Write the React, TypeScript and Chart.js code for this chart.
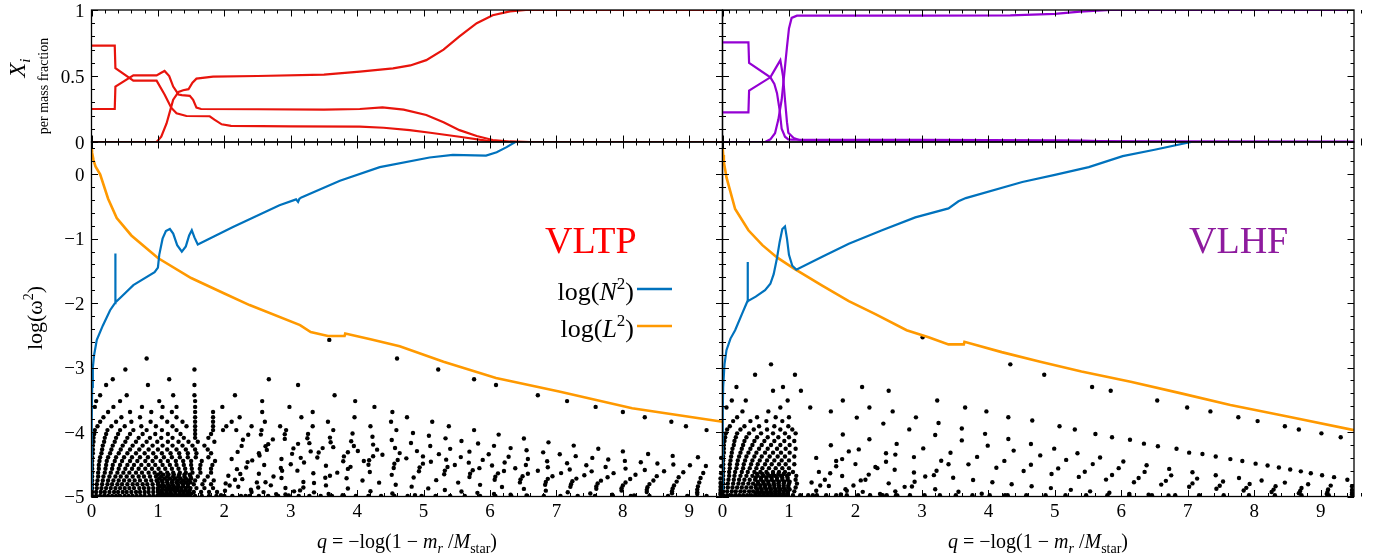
import React, { useEffect, useRef } from 'react';
import { Chart, registerables } from 'chart.js';
Chart.register(...registerables);

const W = 1374;
const H = 559;
const FONT = "'Liberation Serif', 'Times New Roman', serif";

const C_RED = '#e8140c';
const C_PURPLE = '#9400d3';
const C_BLUE = '#0072bd';
const C_ORANGE = '#ff9900';

// ---------- axes ----------
const X_MAJOR = [0, 1, 2, 3, 4, 5, 6, 7, 8, 9];
const Q_MAX = 9.5;
const TOP_Y_MAJOR = [0, 0.5, 1];
const BOT_Y_MAJOR = [-5, -4, -3, -2, -1, 0];
const BOT_Y_MIN = -5;
const BOT_Y_MAX = 0.5;

// ---------- VLTP abundances (top left) ----------
const VLTP_A_Q = [0, 0.35, 0.36, 0.63, 0.98, 1.05, 1.10, 1.17, 1.23, 1.31, 1.36, 1.48, 1.53, 1.58, 1.65, 2.5, 3.5, 4.04, 4.38, 4.7, 5.04, 5.3, 5.54, 5.8, 6.04, 6.3, 6.6, 9.5];
const VLTP_A_X = [0.25, 0.25, 0.42, 0.505, 0.505, 0.525, 0.538, 0.50, 0.42, 0.36, 0.355, 0.35, 0.32, 0.26, 0.25, 0.248, 0.245, 0.25, 0.263, 0.245, 0.205, 0.15, 0.09, 0.045, 0.015, 0.004, 0, 0];
const VLTP_B_Q = [0, 0.35, 0.36, 0.63, 0.98, 1.1, 1.2, 1.28, 1.43, 1.78, 1.85, 1.96, 2.1, 3.0, 4.04, 4.4, 4.79, 5.1, 5.54, 5.94, 6.2, 9.5];
const VLTP_B_X = [0.73, 0.73, 0.56, 0.465, 0.465, 0.36, 0.26, 0.217, 0.197, 0.195, 0.17, 0.134, 0.122, 0.118, 0.116, 0.108, 0.09, 0.07, 0.04, 0.01, 0, 0];
const VLTP_C_Q = [0, 0.98, 1.05, 1.13, 1.18, 1.23, 1.31, 1.38, 1.46, 1.52, 1.58, 1.83, 2.5, 3.5, 4.04, 4.54, 4.8, 5.04, 5.3, 5.54, 5.8, 6.04, 6.3, 6.54, 9.5];
const VLTP_C_X = [0, 0, 0.04, 0.14, 0.23, 0.32, 0.38, 0.392, 0.40, 0.45, 0.48, 0.495, 0.50, 0.51, 0.533, 0.558, 0.58, 0.62, 0.70, 0.80, 0.90, 0.96, 0.99, 1.0, 1.0];

// ---------- VLHF abundances (top right) ----------
const VLHF_A_Q = [0, 0.39, 0.40, 0.72, 0.78, 0.82, 0.86, 0.89, 0.94, 0.99, 1.05, 2, 3, 4, 5, 5.4, 5.8, 6.2, 9.5];
const VLHF_A_X = [0.755, 0.755, 0.60, 0.49, 0.44, 0.37, 0.24, 0.10, 0.04, 0.02, 0.018, 0.017, 0.016, 0.014, 0.012, 0.01, 0.005, 0, 0];
const VLHF_B_Q = [0, 0.39, 0.40, 0.72, 0.80, 0.87, 0.91, 0.94, 0.97, 0.99, 1.07, 1.2, 9.5];
const VLHF_B_X = [0.225, 0.225, 0.39, 0.49, 0.56, 0.62, 0.50, 0.32, 0.15, 0.07, 0.03, 0.008, 0.003];
const VLHF_C_Q = [0, 0.64, 0.72, 0.79, 0.84, 0.89, 0.93, 0.97, 1.0, 1.04, 1.12, 2, 3, 4.33, 5.0, 5.38, 5.84, 9.5];
const VLHF_C_X = [0, 0, 0.02, 0.066, 0.17, 0.32, 0.52, 0.72, 0.86, 0.94, 0.957, 0.957, 0.958, 0.96, 0.97, 0.987, 1.0, 1.0];

// ---------- VLTP frequencies (bottom left) ----------
const VLTP_N2_Q = [0.0, 0.002, 0.005, 0.01, 0.02, 0.04, 0.08, 0.17, 0.28, 0.34, 0.355, 0.358, 0.362, 0.37, 0.45, 0.63, 0.95, 1.0, 1.02, 1.07, 1.12, 1.18, 1.23, 1.29, 1.36, 1.42, 1.47, 1.51, 1.55, 1.60, 2.13, 2.83, 3.08, 3.11, 3.13, 3.16, 3.74, 4.34, 5.09, 5.44, 5.94, 6.1, 6.25, 6.38];
const VLTP_N2_L = [-5.0, -4.4, -3.8, -3.3, -3.0, -2.8, -2.57, -2.35, -2.11, -2.02, -2.0, -1.23, -1.95, -1.98, -1.9, -1.72, -1.52, -1.45, -1.25, -1.0, -0.88, -0.85, -0.92, -1.1, -1.2, -1.12, -0.95, -0.87, -0.98, -1.09, -0.82, -0.48, -0.39, -0.43, -0.38, -0.36, -0.10, 0.11, 0.26, 0.30, 0.29, 0.34, 0.42, 0.5];
const VLTP_L2_Q = [0, 0.003, 0.01, 0.03, 0.06, 0.13, 0.25, 0.38, 0.6, 1.0, 1.5, 2.0, 2.38, 3.14, 3.3, 3.56, 3.81, 3.82, 4.2, 4.64, 5.3, 6.09, 7.04, 8.14, 9.5];
const VLTP_L2_L = [0.5, 0.42, 0.33, 0.22, 0.12, 0.0, -0.38, -0.68, -0.95, -1.3, -1.61, -1.85, -2.03, -2.34, -2.45, -2.51, -2.51, -2.47, -2.56, -2.67, -2.91, -3.16, -3.37, -3.63, -3.84];

// modes: log omega^2 with node positions q (rows), plus node tracks [q, log omega^2]
const VLTP_MODE_LOGW2 = [-2.57, -2.86, -3.03, -3.18, -3.27, -3.43, -3.52, -3.61, -3.69, -3.77, -3.84, -3.91, -3.97,
  -4.03, -4.09, -4.15, -4.21, -4.27, -4.33, -4.39, -4.45, -4.51, -4.57, -4.63, -4.69, -4.75, -4.81, -4.87, -4.93, -4.99,
  -4.66, -4.72, -4.78, -4.84, -4.90, -4.96];
const VLTP_MODE_NODES = [
  [3.58],
  [0.83, 4.60],
  [0.51, 1.55, 5.22],
  [0.32, 1.17, 2.67, 5.76],
  [0.22, 0.85, 1.55, 3.11, 6.09],
  [0.13, 0.53, 1.23, 1.55, 2.16, 3.66, 6.72],
  [0.07, 0.43, 1.02, 1.56, 2.57, 3.97, 7.16],
  [0.05, 0.33, 0.76, 1.07, 1.28, 1.56, 1.97, 2.98, 4.26, 7.59],
  [0.25, 0.58, 0.90, 1.21, 1.56, 1.83, 2.57, 3.33, 4.53, 8.0],
  [0.18, 0.45, 0.73, 1.06, 1.28, 1.56, 1.83, 2.23, 3.16, 3.96, 4.75, 8.33],
  [0.13, 0.37, 0.60, 0.89, 1.14, 1.37, 1.56, 1.83, 2.11, 2.61, 3.56, 4.51, 5.13, 8.73],
  [0.09, 0.30, 0.50, 0.75, 0.97, 1.22, 1.43, 1.56, 1.83, 2.03, 2.41, 2.84, 3.33, 4.20, 5.38, 8.95],
  [0.05, 0.24, 0.43, 0.63, 0.83, 1.06, 1.28, 1.56, 1.83, 1.98, 2.18, 2.56, 2.93, 3.64, 4.59, 5.76, 9.26],
  [0.04, 0.22, 0.40, 0.58, 0.77, 0.96, 1.15, 1.34, 1.56, 1.80],
  [0.03, 0.20, 0.37, 0.54, 0.71, 0.88, 1.05, 1.22, 1.39, 1.56, 1.76],
  [0.03, 0.19, 0.35, 0.51, 0.67, 0.83, 0.99, 1.15, 1.31, 1.46, 1.60, 1.85],
  [0.02, 0.17, 0.32, 0.47, 0.62, 0.77, 0.92, 1.07, 1.22, 1.37, 1.52, 1.70],
  [0.02, 0.16, 0.30, 0.44, 0.58, 0.72, 0.86, 1.00, 1.14, 1.28, 1.42, 1.56, 1.75],
  [0.02, 0.15, 0.28, 0.41, 0.54, 0.67, 0.80, 0.93, 1.06, 1.19, 1.32, 1.45, 1.58, 1.80],
  [0.01, 0.13, 0.25, 0.37, 0.49, 0.61, 0.73, 0.85, 0.97, 1.09, 1.21, 1.33, 1.45, 1.57, 1.76],
  [0.01, 0.12, 0.23, 0.35, 0.46, 0.58, 0.69, 0.81, 0.92, 1.04, 1.15, 1.27, 1.38, 1.50, 1.66, 1.86],
  [0.01, 0.11, 0.22, 0.32, 0.43, 0.54, 0.64, 0.75, 0.86, 0.96, 1.07, 1.18, 1.28, 1.39, 1.50, 1.64, 1.82],
  [0.01, 0.11, 0.21, 0.31, 0.41, 0.51, 0.61, 0.71, 0.81, 0.91, 1.01, 1.11, 1.21, 1.31, 1.41, 1.51, 1.63, 1.80],
  [0.01, 0.10, 0.20, 0.29, 0.39, 0.48, 0.57, 0.67, 0.76, 0.86, 0.95, 1.04, 1.14, 1.23, 1.33, 1.42, 1.52, 1.64, 1.80],
  [0.01, 0.10, 0.18, 0.27, 0.36, 0.44, 0.53, 0.62, 0.71, 0.79, 0.88, 0.97, 1.05, 1.14, 1.23, 1.31, 1.40, 1.49, 1.60, 1.75],
  [0.01, 0.09, 0.17, 0.25, 0.33, 0.41, 0.49, 0.57, 0.65, 0.73, 0.82, 0.90, 0.98, 1.06, 1.14, 1.22, 1.30, 1.38, 1.46, 1.56, 1.70, 1.84],
  [0.01, 0.08, 0.16, 0.24, 0.31, 0.39, 0.46, 0.54, 0.62, 0.69, 0.77, 0.84, 0.92, 1.00, 1.07, 1.15, 1.22, 1.30, 1.38, 1.45, 1.54, 1.67, 1.80],
  [0.01, 0.08, 0.15, 0.22, 0.29, 0.36, 0.43, 0.50, 0.57, 0.64, 0.72, 0.79, 0.86, 0.93, 1.00, 1.07, 1.14, 1.21, 1.28, 1.35, 1.42, 1.49, 1.58, 1.70, 1.83],
  [0.01, 0.07, 0.14, 0.20, 0.27, 0.34, 0.40, 0.47, 0.53, 0.60, 0.67, 0.73, 0.80, 0.86, 0.93, 1.00, 1.06, 1.13, 1.19, 1.26, 1.33, 1.39, 1.46, 1.54, 1.65, 1.77, 1.89],
  [0.01, 0.07, 0.13, 0.19, 0.25, 0.31, 0.37, 0.43, 0.50, 0.56, 0.62, 0.68, 0.74, 0.80, 0.87, 0.93, 0.99, 1.05, 1.11, 1.17, 1.23, 1.30, 1.36, 1.42, 1.48, 1.56, 1.66, 1.77, 1.88, 2.00, 2.12, 2.25, 2.38, 2.52, 2.66, 2.81, 2.96, 3.12, 3.28, 3.45, 3.62, 3.80, 3.98, 4.17, 4.36, 4.56, 4.76, 4.97, 5.18, 5.40, 5.62, 5.85, 6.08, 6.32, 6.56, 6.81, 7.06, 7.32, 7.58, 7.85, 8.12, 8.40, 8.68, 8.97, 9.26],
  [1.00, 1.08, 1.16, 1.24, 1.32, 1.40, 1.48],
  [1.02, 1.10, 1.18, 1.26, 1.34, 1.42, 1.50],
  [1.00, 1.07, 1.14, 1.21, 1.28, 1.35, 1.42, 1.49],
  [1.03, 1.10, 1.17, 1.24, 1.31, 1.38, 1.45],
  [1.00, 1.06, 1.12, 1.18, 1.24, 1.30, 1.36, 1.42, 1.48],
  [1.02, 1.08, 1.14, 1.20, 1.26, 1.32, 1.38, 1.44, 1.50],
];
const VLTP_NODE_TRACKS: number[][][] = [
  [[6.13, -4.04], [6.51, -4.10], [6.88, -4.16], [7.26, -4.21], [7.63, -4.26], [8.00, -4.30], [8.38, -4.34], [8.75, -4.37], [9.13, -4.39], [9.48, -4.40]],
  [[4.84, -4.014], [5.08, -4.057], [5.33, -4.098], [5.57, -4.138], [5.82, -4.177], [6.06, -4.214], [6.31, -4.249], [6.55, -4.283], [6.80, -4.315], [7.05, -4.345], [7.29, -4.374], [7.54, -4.401], [7.78, -4.425], [8.03, -4.448], [8.27, -4.469], [8.52, -4.487], [8.76, -4.503], [9.01, -4.516], [9.25, -4.526], [9.48, -4.53]],
  [[3.93, -4.023], [4.23, -4.074], [4.52, -4.123], [4.81, -4.171], [5.10, -4.217], [5.40, -4.261], [5.69, -4.304], [5.98, -4.345], [6.28, -4.383], [6.57, -4.419], [6.86, -4.453], [7.16, -4.485], [7.45, -4.515], [7.74, -4.542], [8.04, -4.567], [8.33, -4.589], [8.62, -4.608], [8.91, -4.623], [9.21, -4.635], [9.48, -4.64]],
  [[3.26, -4.029], [3.59, -4.086], [3.91, -4.142], [4.24, -4.195], [4.57, -4.247], [4.90, -4.296], [5.23, -4.343], [5.56, -4.389], [5.89, -4.432], [6.22, -4.472], [6.54, -4.511], [6.87, -4.547], [7.20, -4.580], [7.53, -4.610], [7.86, -4.638], [8.19, -4.663], [8.51, -4.684], [8.84, -4.701], [9.17, -4.714], [9.47, -4.72]],
  [[2.91, -4.035], [3.25, -4.097], [3.60, -4.158], [3.95, -4.216], [4.30, -4.273], [4.64, -4.327], [4.99, -4.378], [5.34, -4.428], [5.68, -4.475], [6.03, -4.519], [6.38, -4.561], [6.72, -4.601], [7.07, -4.637], [7.42, -4.670], [7.77, -4.701], [8.11, -4.728], [8.46, -4.751], [8.81, -4.769], [9.15, -4.783], [9.47, -4.79]],
  [[2.55, -4.040], [2.91, -4.106], [3.28, -4.172], [3.64, -4.234], [4.01, -4.295], [4.38, -4.353], [4.74, -4.408], [5.11, -4.462], [5.47, -4.512], [5.84, -4.560], [6.21, -4.604], [6.57, -4.647], [6.94, -4.685], [7.30, -4.722], [7.67, -4.754], [8.04, -4.783], [8.40, -4.808], [8.77, -4.828], [9.13, -4.843], [9.47, -4.85]],
  [[2.36, -4.043], [2.73, -4.114], [3.11, -4.183], [3.48, -4.249], [3.86, -4.313], [4.24, -4.375], [4.61, -4.433], [4.99, -4.490], [5.36, -4.543], [5.74, -4.593], [6.12, -4.641], [6.49, -4.685], [6.87, -4.726], [7.24, -4.764], [7.62, -4.799], [8.00, -4.829], [8.37, -4.855], [8.75, -4.877], [9.12, -4.893], [9.47, -4.90]],
  [[2.28, -4.120], [2.66, -4.188], [3.04, -4.254], [3.42, -4.317], [3.80, -4.378], [4.18, -4.437], [4.56, -4.493], [4.94, -4.548], [5.32, -4.598], [5.70, -4.646], [6.08, -4.692], [6.46, -4.734], [6.84, -4.774], [7.22, -4.810], [7.60, -4.843], [7.98, -4.872], [8.36, -4.897], [8.74, -4.918], [9.12, -4.933], [9.47, -4.94]],
  [[2.26, -4.215], [2.64, -4.277], [3.02, -4.338], [3.40, -4.396], [3.79, -4.453], [4.17, -4.507], [4.55, -4.558], [4.93, -4.608], [5.31, -4.655], [5.69, -4.699], [6.07, -4.741], [6.45, -4.781], [6.83, -4.817], [7.21, -4.850], [7.60, -4.881], [7.98, -4.908], [8.36, -4.931], [8.74, -4.949], [9.12, -4.963], [9.47, -4.97]],
  [[2.20, -4.308], [2.53, -4.365], [2.86, -4.419], [3.20, -4.472], [3.53, -4.523], [3.86, -4.572], [4.19, -4.619], [4.52, -4.664], [4.85, -4.706], [5.19, -4.746], [5.52, -4.784], [5.85, -4.819], [6.18, -4.852], [6.51, -4.882], [6.84, -4.909], [7.17, -4.934], [7.51, -4.954], [7.84, -4.971], [8.17, -4.984]],
  [[2.11, -4.419], [2.35, -4.466], [2.60, -4.512], [2.85, -4.556], [3.10, -4.599], [3.34, -4.640], [3.59, -4.679], [3.84, -4.717], [4.08, -4.752], [4.33, -4.785], [4.58, -4.817], [4.82, -4.847], [5.07, -4.874], [5.32, -4.899], [5.57, -4.922], [5.81, -4.943], [6.06, -4.960], [6.31, -4.974], [6.55, -4.985]],
  [[2.19, -4.576], [2.52, -4.647], [2.86, -4.713], [3.19, -4.774], [3.53, -4.828], [3.86, -4.877], [4.20, -4.918], [4.53, -4.953], [4.87, -4.978]],
  [[2.06, -4.677], [2.27, -4.731], [2.49, -4.781], [2.70, -4.827], [2.92, -4.868], [3.14, -4.905], [3.35, -4.936], [3.57, -4.962], [3.78, -4.981]],
  [[2.02, -4.797], [2.21, -4.849], [2.40, -4.894], [2.59, -4.932], [2.78, -4.963], [2.97, -4.984]],
  [[2.62, -4.22], [2.52, -4.33], [2.42, -4.44], [2.33, -4.55], [2.24, -4.65], [2.16, -4.74], [2.08, -4.83], [2.01, -4.91], [1.95, -4.98]],
  [[3.30, -4.30], [3.15, -4.40], [3.00, -4.50], [2.87, -4.60], [2.74, -4.69], [2.62, -4.78], [2.51, -4.86], [2.41, -4.93], [2.32, -4.99]],
  [[4.10, -4.45], [3.90, -4.54], [3.70, -4.63], [3.52, -4.71], [3.35, -4.79], [3.19, -4.86], [3.05, -4.92], [2.92, -4.97]],
];

// ---------- VLHF frequencies (bottom right) ----------
const VLHF_N2_Q = [0, 0.002, 0.005, 0.01, 0.03, 0.06, 0.12, 0.19, 0.3, 0.375, 0.378, 0.382, 0.5, 0.64, 0.72, 0.77, 0.82, 0.86, 0.9, 0.94, 0.97, 1.0, 1.05, 1.11, 1.5, 1.9, 2.4, 2.9, 3.4, 3.55, 3.66, 4.51, 5.0, 5.51, 6.02, 6.5, 7.05];
const VLHF_N2_L = [-5, -4.3, -3.7, -3.3, -2.95, -2.73, -2.55, -2.42, -2.15, -1.97, -1.36, -1.97, -1.9, -1.80, -1.70, -1.55, -1.3, -1.05, -0.85, -0.81, -1.0, -1.25, -1.42, -1.48, -1.28, -1.08, -0.87, -0.67, -0.53, -0.42, -0.37, -0.12, -0.01, 0.11, 0.28, 0.38, 0.5];
const VLHF_L2_Q = [0, 0.003, 0.01, 0.02, 0.06, 0.19, 0.39, 0.6, 0.82, 1.07, 1.5, 1.9, 2.3, 2.77, 3.1, 3.4, 3.63, 3.64, 4.2, 4.78, 5.4, 6.14, 6.9, 7.64, 8.5, 9.5];
const VLHF_L2_L = [0.5, 0.4, 0.3, 0.19, -0.05, -0.54, -0.87, -1.1, -1.29, -1.46, -1.73, -1.97, -2.17, -2.42, -2.53, -2.64, -2.64, -2.60, -2.76, -2.91, -3.06, -3.22, -3.40, -3.58, -3.76, -3.97];

const VLHF_MODE_LOGW2 = [-2.53, -2.95, -3.11, -3.30, -3.36, -3.51, -3.62, -3.68,
  -3.77, -3.83, -3.91, -3.96, -4.02, -4.08, -4.14, -4.20, -4.26, -4.32, -4.38, -4.44, -4.50, -4.56, -4.62, -4.68, -4.74, -4.80, -4.86, -4.92, -4.98,
  -4.65, -4.71, -4.77, -4.83, -4.89, -4.95];
const VLHF_MODE_NODES = [
  [3.01],
  [0.73, 4.33],
  [0.49, 1.09, 4.84],
  [0.21, 0.91, 2.10, 5.56],
  [0.76, 1.18, 2.50, 5.84],
  [0.14, 0.35, 0.98, 1.81, 3.23, 6.54],
  [0.06, 0.87, 1.32, 2.21, 3.65, 6.99],
  [0.30, 0.69, 1.63, 2.56, 3.97, 7.34],
  [0.22, 0.52, 0.80, 1.00],
  [0.16, 0.42, 0.66, 0.90],
  [0.11, 0.33, 0.55, 0.78, 0.99],
  [0.07, 0.27, 0.47, 0.67, 0.87, 1.05],
  [0.05, 0.22, 0.40, 0.58, 0.76, 0.94, 1.10],
  [0.04, 0.20, 0.36, 0.52, 0.68, 0.84, 1.00],
  [0.03, 0.18, 0.33, 0.48, 0.63, 0.78, 0.93, 1.08],
  [0.02, 0.17, 0.31, 0.45, 0.59, 0.73, 0.87, 1.01],
  [0.02, 0.15, 0.29, 0.42, 0.55, 0.68, 0.82, 0.95, 1.10],
  [0.02, 0.14, 0.27, 0.39, 0.51, 0.64, 0.76, 0.88, 1.01],
  [0.01, 0.13, 0.25, 0.36, 0.48, 0.59, 0.71, 0.83, 0.94, 1.08],
  [0.01, 0.12, 0.23, 0.34, 0.45, 0.56, 0.67, 0.78, 0.89, 1.00],
  [0.01, 0.11, 0.22, 0.32, 0.43, 0.53, 0.64, 0.74, 0.85, 0.95, 1.08],
  [0.01, 0.11, 0.21, 0.31, 0.41, 0.51, 0.60, 0.70, 0.80, 0.90, 1.00],
  [0.01, 0.10, 0.19, 0.29, 0.38, 0.48, 0.57, 0.66, 0.76, 0.85, 0.94, 1.06],
  [0.01, 0.10, 0.18, 0.27, 0.36, 0.45, 0.53, 0.62, 0.71, 0.79, 0.88, 0.97, 1.11],
  [0.01, 0.09, 0.17, 0.25, 0.33, 0.41, 0.49, 0.58, 0.66, 0.74, 0.82, 0.90, 0.98, 1.10],
  [0.01, 0.08, 0.16, 0.24, 0.31, 0.39, 0.46, 0.54, 0.62, 0.69, 0.77, 0.84, 0.92, 1.00, 1.12],
  [0.01, 0.08, 0.15, 0.22, 0.29, 0.36, 0.43, 0.50, 0.57, 0.64, 0.71, 0.78, 0.85, 0.92, 0.99, 1.10],
  [0.01, 0.07, 0.14, 0.20, 0.27, 0.33, 0.40, 0.46, 0.53, 0.59, 0.66, 0.72, 0.79, 0.85, 0.92, 0.98, 1.08],
  [0.01, 0.07, 0.13, 0.19, 0.25, 0.31, 0.37, 0.43, 0.49, 0.55, 0.61, 0.67, 0.73, 0.79, 0.85, 0.91, 0.97, 1.06, 1.17, 1.29, 1.42, 1.56, 1.71, 1.87, 2.04, 2.22, 2.41, 2.61, 2.82, 3.04, 3.27, 3.51, 3.76, 4.02, 4.29, 4.57, 4.86, 5.16, 5.47, 5.79, 6.12, 6.46, 6.81, 7.17, 7.54, 7.92, 8.31, 8.71, 9.12],
  [0.52, 0.60, 0.68, 0.76, 0.84, 0.92, 1.00],
  [0.50, 0.58, 0.66, 0.74, 0.82, 0.90, 0.98],
  [0.53, 0.61, 0.69, 0.77, 0.85, 0.93, 1.01],
  [0.50, 0.57, 0.64, 0.71, 0.78, 0.85, 0.92, 0.99],
  [0.52, 0.59, 0.66, 0.73, 0.80, 0.87, 0.94, 1.01],
  [0.50, 0.56, 0.62, 0.68, 0.74, 0.80, 0.86, 0.92, 0.98],
];
const VLHF_NODE_TRACKS: number[][][] = [
  [[7.76, -3.77], [8.05, -3.83], [8.46, -3.91], [8.67, -3.96], [9.01, -4.02], [9.30, -4.08]],
  [[4.30, -3.77], [4.66, -3.82], [5.07, -3.91], [5.30, -3.96], [5.61, -4.03], [5.86, -4.08], [6.13, -4.12], [6.34, -4.18], [6.55, -4.22], [6.83, -4.26], [7.02, -4.32], [7.22, -4.34], [7.42, -4.38], [7.64, -4.42], [7.82, -4.45], [8.02, -4.49], [8.2, -4.52], [8.37, -4.55], [8.54, -4.58], [8.7, -4.61], [8.85, -4.64], [9.02, -4.67], [9.2, -4.70], [9.40, -4.74]],
  [[2.91, -3.772], [3.25, -3.860], [3.60, -3.946], [3.95, -4.028], [4.30, -4.108], [4.64, -4.185], [4.99, -4.258], [5.34, -4.328], [5.68, -4.395], [6.03, -4.457], [6.38, -4.516], [6.72, -4.572], [7.07, -4.623], [7.42, -4.671], [7.77, -4.714], [8.11, -4.752], [8.46, -4.784], [8.81, -4.811], [9.15, -4.831], [9.47, -4.84]],
  [[2.02, -3.776], [2.42, -3.869], [2.81, -3.959], [3.20, -4.046], [3.60, -4.130], [3.99, -4.211], [4.38, -4.288], [4.78, -4.362], [5.17, -4.432], [5.57, -4.497], [5.96, -4.560], [6.35, -4.618], [6.75, -4.672], [7.14, -4.722], [7.53, -4.767], [7.93, -4.807], [8.32, -4.841], [8.71, -4.869], [9.11, -4.890], [9.47, -4.90]],
  [[1.81, -4.037], [2.21, -4.112], [2.62, -4.184], [3.02, -4.254], [3.43, -4.322], [3.83, -4.386], [4.24, -4.448], [4.64, -4.508], [5.05, -4.564], [5.45, -4.617], [5.86, -4.667], [6.26, -4.714], [6.67, -4.757], [7.07, -4.797], [7.48, -4.833], [7.88, -4.866], [8.29, -4.893], [8.69, -4.915], [9.10, -4.932], [9.47, -4.94]],
  [[1.63, -4.206], [2.05, -4.269], [2.46, -4.330], [2.88, -4.389], [3.29, -4.446], [3.70, -4.501], [4.12, -4.553], [4.53, -4.604], [4.95, -4.651], [5.36, -4.696], [5.77, -4.738], [6.19, -4.778], [6.60, -4.815], [7.02, -4.849], [7.43, -4.880], [7.84, -4.907], [8.26, -4.930], [8.67, -4.949], [9.09, -4.963], [9.47, -4.97]],
  [[1.41, -4.401], [1.71, -4.449], [2.00, -4.497], [2.30, -4.542], [2.59, -4.586], [2.88, -4.628], [3.18, -4.669], [3.47, -4.708], [3.77, -4.744], [4.06, -4.779], [4.35, -4.811], [4.65, -4.842], [4.94, -4.870], [5.24, -4.897], [5.53, -4.920], [5.82, -4.941], [6.12, -4.959], [6.41, -4.974], [6.71, -4.985]],
  [[1.45, -4.618], [1.80, -4.682], [2.15, -4.741], [2.50, -4.796], [2.85, -4.845], [3.20, -4.888], [3.55, -4.926], [3.90, -4.957], [4.25, -4.979]],
  [[1.34, -4.782], [1.60, -4.837], [1.85, -4.886], [2.11, -4.928], [2.37, -4.961], [2.63, -4.983]],
  [[1.90, -4.30], [1.80, -4.42], [1.71, -4.53], [1.62, -4.64], [1.54, -4.74], [1.47, -4.83], [1.41, -4.91], [1.36, -4.98]],
  [[2.60, -4.35], [2.46, -4.46], [2.33, -4.56], [2.20, -4.66], [2.08, -4.75], [1.97, -4.83], [1.87, -4.91], [1.78, -4.97]],
  [[3.40, -4.50], [3.22, -4.60], [3.05, -4.69], [2.89, -4.77], [2.74, -4.85], [2.60, -4.92], [2.47, -4.98]],
];

// ---------- helpers ----------
type Pt = { x: number; y: number };
const zip = (q: number[], v: number[]): Pt[] => q.map((x, i) => ({ x, y: v[i] }));
const dotsFrom = (levels: number[], nodes: number[][], tracks: number[][][]): Pt[] => [
  ...levels.flatMap((L, i) => (nodes[i] || []).map((q) => ({ x: q, y: L }))),
  ...tracks.flatMap((t) => t.map(([q, L]) => ({ x: q, y: L }))),
];

type Seg = { t: string; it?: boolean; s?: number; dy?: number };
function drawRich(ctx: CanvasRenderingContext2D, segs: Seg[], x: number, y: number, base: number, align: 'left' | 'center' | 'right', color: string) {
  ctx.save();
  ctx.fillStyle = color;
  ctx.textBaseline = 'alphabetic';
  ctx.textAlign = 'left';
  const fontOf = (s: Seg) => `${s.it ? 'italic ' : ''}${s.s ?? base}px ${FONT}`;
  let total = 0;
  for (const s of segs) {
    ctx.font = fontOf(s);
    total += ctx.measureText(s.t).width;
  }
  let cx = align === 'left' ? x : align === 'center' ? x - total / 2 : x - total;
  for (const s of segs) {
    ctx.font = fontOf(s);
    ctx.fillText(s.t, cx, y + (s.dy ?? 0));
    cx += ctx.measureText(s.t).width;
  }
  ctx.restore();
}

function range(a: number, b: number, step: number): number[] {
  const out: number[] = [];
  const n = Math.round((b - a) / step);
  for (let i = 0; i <= n; i++) out.push(+(a + i * step).toFixed(6));
  return out;
}

const fmt = (v: number) => (v < 0 ? '\u2212' + Math.abs(v) : String(v));

function framePlugin(yMajor: number[], yMinor: number[], showX: boolean, showY: boolean) {
  const xMinor = range(0, Q_MAX, 0.2);
  return {
    id: 'frameTicks',
    afterDatasetsDraw(chart: any) {
      const { ctx, chartArea: a, scales } = chart;
      const xs = scales.x;
      const ys = scales.y;
      ctx.save();
      ctx.strokeStyle = '#000';
      ctx.lineWidth = 1;
      const px = (v: number) => Math.round(xs.getPixelForValue(v)) + 0.5;
      const py = (v: number) => Math.round(ys.getPixelForValue(v)) + 0.5;
      ctx.beginPath();
      const xt = (v: number, len: number) => {
        const p = px(v);
        ctx.moveTo(p, a.bottom); ctx.lineTo(p, a.bottom - len);
        ctx.moveTo(p, a.top); ctx.lineTo(p, a.top + len);
      };
      const yt = (v: number, len: number) => {
        const p = py(v);
        ctx.moveTo(a.left, p); ctx.lineTo(a.left + len, p);
        ctx.moveTo(a.right, p); ctx.lineTo(a.right - len, p);
      };
      xMinor.forEach((v) => xt(v, 3.5));
      X_MAJOR.forEach((v) => xt(v, 6.5));
      yMinor.forEach((v) => yt(v, 3.5));
      yMajor.forEach((v) => yt(v, 6.5));
      ctx.stroke();
      ctx.lineWidth = 1.3;
      ctx.strokeRect(a.left, a.top, a.right - a.left, a.bottom - a.top);
      ctx.fillStyle = '#000';
      ctx.font = `19px ${FONT}`;
      ctx.textBaseline = 'alphabetic';
      if (showX) {
        ctx.textAlign = 'center';
        X_MAJOR.forEach((v) => ctx.fillText(String(v), xs.getPixelForValue(v), a.bottom + 20.5));
      }
      if (showY) {
        ctx.textAlign = 'right';
        yMajor.forEach((v) => ctx.fillText(fmt(v), a.left - 7, ys.getPixelForValue(v) + 6.5));
      }
      ctx.restore();
    },
  };
}

const textPlugin = {
  id: 'pageText',
  afterDraw(chart: any) {
    const ctx: CanvasRenderingContext2D = chart.ctx;
    const xt = (cx: number) =>
      drawRich(ctx, [
        { t: 'q', it: true },
        { t: ' = \u2212log(1 \u2212 ' },
        { t: 'm', it: true },
        { t: 'r', it: true, s: 14, dy: 5 },
        { t: ' /' },
        { t: 'M', it: true },
        { t: 'star', s: 14, dy: 5 },
        { t: ')' },
      ], cx, 548, 20, 'center', '#000');
    xt(407);
    xt(1038);
    ctx.save();
    ctx.translate(25, 68);
    ctx.rotate(-Math.PI / 2);
    drawRich(ctx, [{ t: 'X', it: true }, { t: 'i', it: true, s: 15, dy: 5 }], 0, 0, 24, 'center', '#000');
    ctx.restore();
    ctx.save();
    ctx.translate(48, 86);
    ctx.rotate(-Math.PI / 2);
    drawRich(ctx, [{ t: 'per mass fraction' }], 0, 0, 14, 'center', '#000');
    ctx.restore();
    ctx.save();
    ctx.translate(42, 318);
    ctx.rotate(-Math.PI / 2);
    drawRich(ctx, [{ t: 'log(\u03c9' }, { t: '2', s: 14, dy: -9 }, { t: ')' }], 0, 0, 22, 'center', '#000');
    ctx.restore();
    drawRich(ctx, [{ t: 'VLTP' }], 545, 253, 38, 'left', '#ff0000');
    drawRich(ctx, [{ t: 'VLHF' }], 1189, 253, 38, 'left', '#8e1b9e');
    drawRich(ctx, [{ t: 'log(' }, { t: 'N', it: true }, { t: '2', s: 17, dy: -11 }, { t: ')' }], 634, 300, 26, 'right', '#000');
    drawRich(ctx, [{ t: 'log(' }, { t: 'L', it: true }, { t: '2', s: 17, dy: -11 }, { t: ')' }], 634, 337, 26, 'right', '#000');
    ctx.save();
    ctx.lineWidth = 2.5;
    ctx.strokeStyle = C_BLUE;
    ctx.beginPath(); ctx.moveTo(637, 289); ctx.lineTo(672, 289); ctx.stroke();
    ctx.strokeStyle = C_ORANGE;
    ctx.beginPath(); ctx.moveTo(637, 326); ctx.lineTo(672, 326); ctx.stroke();
    ctx.restore();
  },
};

function lineDs(data: Pt[], color: string, width: number, order = 0) {
  return { data, showLine: true, borderColor: color, backgroundColor: color, borderWidth: width, pointRadius: 0, tension: 0, order };
}
function dotDs(data: Pt[]) {
  return { data, showLine: false, pointRadius: 2.2, pointHoverRadius: 2.2, pointBackgroundColor: '#000', pointBorderWidth: 0, borderWidth: 0, order: 5 };
}

type Panel = {
  left: number; right: number; top: number; bottom: number;
  showY: boolean; showX: boolean; yMin: number; yMax: number;
  yMajor: number[]; yMinor: number[]; datasets: any[]; extra?: any[];
};

function makeConfig(p: Panel) {
  return {
    type: 'scatter',
    data: { datasets: p.datasets },
    options: {
      responsive: false,
      animation: false,
      devicePixelRatio: 1,
      events: [],
      layout: { padding: { left: p.left, right: W - p.right, top: p.top, bottom: H - p.bottom } },
      plugins: { legend: { display: false }, tooltip: { enabled: false } },
      scales: {
        x: { type: 'linear', min: 0, max: Q_MAX, display: false },
        y: { type: 'linear', min: p.yMin, max: p.yMax, display: false },
      },
    },
    plugins: [framePlugin(p.yMajor, p.yMinor, p.showX, p.showY), ...(p.extra || [])],
  };
}

const TOP_MINOR = range(0, 1, 0.1);
const BOT_MINOR = range(-5, 0.4, 0.2);

export default function App() {
  const r1 = useRef<HTMLCanvasElement>(null);
  const r2 = useRef<HTMLCanvasElement>(null);
  const r3 = useRef<HTMLCanvasElement>(null);
  const r4 = useRef<HTMLCanvasElement>(null);

  useEffect(() => {
    const LX = 91.5, MX = 722.5, RX = 1354, TY = 10, MY = 142, BY = 496.5;
    const panels: Panel[] = [
      {
        left: LX, right: MX, top: TY, bottom: MY, showY: true, showX: false, yMin: 0, yMax: 1,
        yMajor: TOP_Y_MAJOR, yMinor: TOP_MINOR,
        datasets: [
          lineDs(zip(VLTP_A_Q, VLTP_A_X), C_RED, 2.2),
          lineDs(zip(VLTP_B_Q, VLTP_B_X), C_RED, 2.2),
          lineDs(zip(VLTP_C_Q, VLTP_C_X), C_RED, 2.2),
        ],
      },
      {
        left: MX, right: RX, top: TY, bottom: MY, showY: false, showX: false, yMin: 0, yMax: 1,
        yMajor: TOP_Y_MAJOR, yMinor: TOP_MINOR,
        datasets: [
          lineDs(zip(VLHF_A_Q, VLHF_A_X), C_PURPLE, 2.2),
          lineDs(zip(VLHF_B_Q, VLHF_B_X), C_PURPLE, 2.2),
          lineDs(zip(VLHF_C_Q, VLHF_C_X), C_PURPLE, 2.2),
        ],
      },
      {
        left: LX, right: MX, top: MY, bottom: BY, showY: true, showX: true, yMin: BOT_Y_MIN, yMax: BOT_Y_MAX,
        yMajor: BOT_Y_MAJOR, yMinor: BOT_MINOR,
        datasets: [
          lineDs(zip(VLTP_N2_Q, VLTP_N2_L), C_BLUE, 2.2, 0),
          lineDs(zip(VLTP_L2_Q, VLTP_L2_L), C_ORANGE, 2.6, 1),
          dotDs(dotsFrom(VLTP_MODE_LOGW2, VLTP_MODE_NODES, VLTP_NODE_TRACKS)),
        ],
        extra: [textPlugin],
      },
      {
        left: MX, right: RX, top: MY, bottom: BY, showY: false, showX: true, yMin: BOT_Y_MIN, yMax: BOT_Y_MAX,
        yMajor: BOT_Y_MAJOR, yMinor: BOT_MINOR,
        datasets: [
          lineDs(zip(VLHF_N2_Q, VLHF_N2_L), C_BLUE, 2.2, 0),
          lineDs(zip(VLHF_L2_Q, VLHF_L2_L), C_ORANGE, 2.6, 1),
          dotDs(dotsFrom(VLHF_MODE_LOGW2, VLHF_MODE_NODES, VLHF_NODE_TRACKS)),
        ],
      },
    ];
    const refs = [r1, r2, r3, r4];
    const charts = panels.map((p, i) => new Chart(refs[i].current as HTMLCanvasElement, makeConfig(p) as any));
    return () => charts.forEach((c) => c.destroy());
  }, []);

  const cs: React.CSSProperties = { position: 'absolute', left: 0, top: 0, width: W, height: H };
  return (
    <div style={{ position: 'fixed', left: 0, top: 0, width: W, height: H, background: '#fff' }}>
      <canvas ref={r1} width={W} height={H} style={cs} />
      <canvas ref={r2} width={W} height={H} style={cs} />
      <canvas ref={r3} width={W} height={H} style={cs} />
      <canvas ref={r4} width={W} height={H} style={cs} />
    </div>
  );
}
